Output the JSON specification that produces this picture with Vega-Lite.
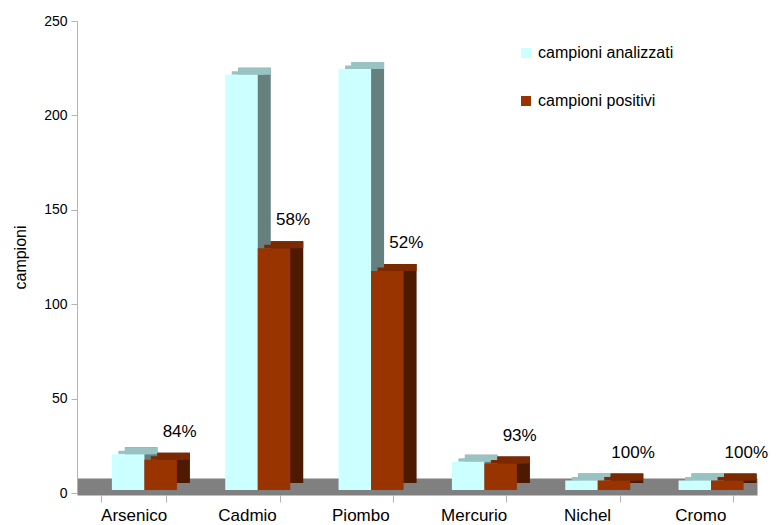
{
  "$schema": "https://vega.github.io/schema/vega-lite/v6.json",
  "width": 680,
  "height": 472,
  "autosize": {"type": "none"},
  "padding": {"left": 77, "top": 21, "right": 27, "bottom": 32},
  "background": "white",
  "config": {
    "view": {"stroke": null},
    "font": "Liberation Sans",
    "text": {"font": "Liberation Sans"}
  },
  "data": {
    "values": [
      {"elemento": "Arsenico", "serie": "campioni analizzati", "valore": 19, "pct": ""},
      {"elemento": "Arsenico", "serie": "campioni positivi", "valore": 16, "pct": "84%"},
      {"elemento": "Cadmio", "serie": "campioni analizzati", "valore": 220, "pct": ""},
      {"elemento": "Cadmio", "serie": "campioni positivi", "valore": 128, "pct": "58%"},
      {"elemento": "Piombo", "serie": "campioni analizzati", "valore": 223, "pct": ""},
      {"elemento": "Piombo", "serie": "campioni positivi", "valore": 116, "pct": "52%"},
      {"elemento": "Mercurio", "serie": "campioni analizzati", "valore": 15, "pct": ""},
      {"elemento": "Mercurio", "serie": "campioni positivi", "valore": 14, "pct": "93%"},
      {"elemento": "Nichel", "serie": "campioni analizzati", "valore": 5, "pct": ""},
      {"elemento": "Nichel", "serie": "campioni positivi", "valore": 5, "pct": "100%"},
      {"elemento": "Cromo", "serie": "campioni analizzati", "valore": 5, "pct": ""},
      {"elemento": "Cromo", "serie": "campioni positivi", "valore": 5, "pct": "100%"}
    ]
  },
  "encoding": {
    "x": {
      "field": "elemento",
      "type": "nominal",
      "sort": ["Arsenico", "Cadmio", "Piombo", "Mercurio", "Nichel", "Cromo"],
      "scale": {"paddingInner": 0.426, "paddingOuter": 0.213},
      "axis": {
        "title": null,
        "labelAngle": 0,
        "labelFontSize": 17,
        "labelColor": "#000000",
        "labelPadding": 5,
        "domainColor": "#808080",
        "domainWidth": 17,
        "offset": -6.5,
        "zindex": 0,
        "tickBand": "extent",
        "tickColor": "#b3b3b3",
        "tickSize": 15.5,
        "tickDash": [0, 8.5, 7, 100]
      }
    },
    "y": {
      "field": "valore",
      "type": "quantitative",
      "scale": {"domain": [0, 250], "nice": false},
      "axis": {
        "title": "campioni",
        "titleFontSize": 16,
        "titleFontWeight": "normal",
        "titleColor": "#000000",
        "titlePadding": 15,
        "values": [0, 50, 100, 150, 200, 250],
        "labelFontSize": 14,
        "labelColor": "#000000",
        "labelPadding": 4,
        "tickSize": 6,
        "tickColor": "#b3b3b3",
        "domainColor": "#b3b3b3",
        "grid": false
      }
    }
  },
  "layer": [
    {
      "transform": [{"filter": "datum.serie === 'campioni analizzati'"}],
      "mark": {"type": "bar", "color": "#668080", "width": {"band": 0.5}, "xOffset": 7.5, "yOffset": -10, "y2Offset": -10},
      "encoding": {"y2": {"datum": 0}}
    },
    {
      "transform": [{"filter": "datum.serie === 'campioni analizzati'"}],
      "mark": {"type": "bar", "color": "#99c2c2", "width": {"band": 0.5}, "xOffset": 7.5, "yOffset": -10, "y2Offset": -3},
      "encoding": {"y2": {"field": "valore"}}
    },
    {
      "transform": [{"filter": "datum.serie === 'campioni analizzati'"}],
      "mark": {"type": "bar", "color": "#99c2c2", "width": {"band": 0.5}, "xOffset": 1, "yOffset": -6.5, "y2Offset": -3},
      "encoding": {"y2": {"field": "valore"}}
    },
    {
      "transform": [{"filter": "datum.serie === 'campioni positivi'"}],
      "mark": {"type": "bar", "color": "#4d1a00", "width": {"band": 0.5}, "xOffset": 40, "yOffset": -10, "y2Offset": -10},
      "encoding": {"y2": {"datum": 0}}
    },
    {
      "transform": [{"filter": "datum.serie === 'campioni positivi'"}],
      "mark": {"type": "bar", "color": "#7a2900", "width": {"band": 0.5}, "xOffset": 40, "yOffset": -10, "y2Offset": -3},
      "encoding": {"y2": {"field": "valore"}}
    },
    {
      "transform": [{"filter": "datum.serie === 'campioni positivi'"}],
      "mark": {"type": "bar", "color": "#7a2900", "width": {"band": 0.5}, "xOffset": 33.5, "yOffset": -6.5, "y2Offset": -3},
      "encoding": {"y2": {"field": "valore"}}
    },
    {
      "transform": [{"filter": "datum.serie === 'campioni analizzati'"}],
      "mark": {"type": "bar", "width": {"band": 0.5}, "xOffset": -5.5, "yOffset": -3, "y2Offset": -3},
      "encoding": {
        "y2": {"datum": 0},
        "color": {
          "field": "serie",
          "type": "nominal",
          "scale": {"domain": ["campioni analizzati", "campioni positivi"], "range": ["#ccffff", "#993300"]},
          "legend": {
            "title": null,
            "orient": "none",
            "legendX": 441,
            "legendY": 24,
            "symbolType": "square",
            "symbolSize": 100,
            "symbolStrokeWidth": 0,
            "symbolOpacity": 1,
            "labelFontSize": 16,
            "labelColor": "#000000",
            "labelOffset": 4,
            "rowPadding": 32
          }
        }
      }
    },
    {
      "transform": [{"filter": "datum.serie === 'campioni positivi'"}],
      "mark": {"type": "bar", "width": {"band": 0.5}, "xOffset": 27, "yOffset": -3, "y2Offset": -3},
      "encoding": {
        "y2": {"datum": 0},
        "color": {"field": "serie", "type": "nominal"}
      }
    },
    {
      "transform": [{"filter": "datum.serie === 'campioni positivi'"}],
      "mark": {"type": "text", "fontSize": 17, "color": "#000000", "baseline": "alphabetic", "dx": 46, "dy": -26},
      "encoding": {"text": {"field": "pct"}}
    }
  ]
}
